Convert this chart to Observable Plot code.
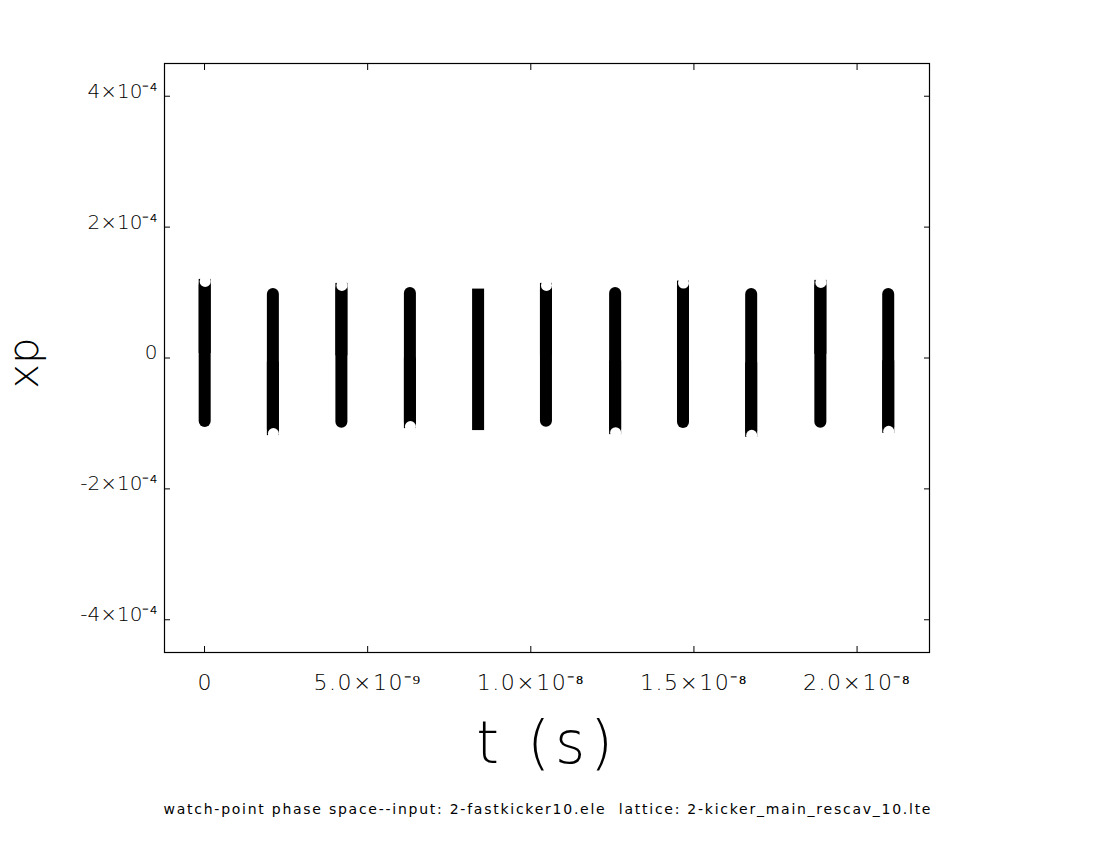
<!DOCTYPE html>
<html><head><meta charset="utf-8">
<script src="https://cdn.jsdelivr.net/npm/d3@7"></script>
<script src="https://cdn.jsdelivr.net/npm/@observablehq/plot@0.6"></script>
<style>body{margin:0;background:#fff} #chart svg{display:block}</style>
</head><body><div id="chart"></div>
<script>
// bunch centers (s), xp extents, which end is notched
const bunchT = [0.02e-9, 2.11e-9, 4.21e-9, 6.31e-9, 8.40e-9, 10.48e-9, 12.60e-9, 14.68e-9, 16.77e-9, 18.89e-9, 20.97e-9];
const bunchTop = [1.201e-4, 1.063e-4, 1.140e-4, 1.079e-4, 1.053e-4, 1.140e-4, 1.079e-4, 1.175e-4, 1.063e-4, 1.186e-4, 1.063e-4];
const bunchBottom = [-1.063e-4, -1.186e-4, -1.074e-4, -1.079e-4, -1.109e-4, -1.059e-4, -1.171e-4, -1.079e-4, -1.212e-4, -1.074e-4, -1.151e-4];
const bunchNotch = ["top", "bottom", "top", "bottom", "none", "top", "bottom", "top", "bottom", "top", "bottom"];
const bunchHalfLength = 0.184e-9;

const xTicks = [0, 5e-9, 1e-8, 1.5e-8, 2e-8];
const xTickLabels = ["0", "5.0×10⁻⁹", "1.0×10⁻⁸", "1.5×10⁻⁸", "2.0×10⁻⁸"];
const yTicks = [4e-4, 2e-4, 0, -2e-4, -4e-4];
const yTickLabels = ["4×10⁻⁴", "2×10⁻⁴", "0", "-2×10⁻⁴", "-4×10⁻⁴"];
const xLabel = "t (s)";
const yLabel = "xp";
const caption = "watch-point phase space--input: 2-fastkicker10.ele  lattice: 2-kicker_main_rescav_10.lte";
const xDomain = [-1.227e-9, 22.22e-9];
const yDomain = [-4.5e-4, 4.5e-4];

const bunches = bunchT.map((t, i) => ({
  t, top: bunchTop[i], bottom: bunchBottom[i], notch: bunchNotch[i],
  mid: (bunchTop[i] + bunchBottom[i]) / 2
}));

const font = "DejaVu Sans";
const chart = Plot.plot({
  width: 1093, height: 842,
  marginLeft: 164, marginRight: 164, marginTop: 63, marginBottom: 190,
  x: {domain: xDomain},
  y: {domain: yDomain},
  style: {fontFamily: font, fontWeight: 200, color: "black", background: "white"},
  marks: [
    Plot.frame({stroke: "black", strokeWidth: 1.2}),
    Plot.axisX({anchor: "bottom", ticks: xTicks, tickSize: -6, tickFormat: () => "", label: null}),
    Plot.axisX({anchor: "top", ticks: xTicks, tickSize: -6, tickFormat: () => "", label: null}),
    Plot.axisY({anchor: "left", ticks: yTicks, tickSize: -6, tickFormat: () => "", label: null}),
    Plot.axisY({anchor: "right", ticks: yTicks, tickSize: -6, tickFormat: () => "", label: null}),
    // bunches: rounded body
    Plot.rect(bunches.filter(d => d.notch !== "none"), {
      x1: d => d.t - bunchHalfLength, x2: d => d.t + bunchHalfLength,
      y1: "bottom", y2: "top", fill: "black", rx: 6
    }),
    // square end on notched side
    Plot.rect(bunches, {
      x1: d => d.t - bunchHalfLength, x2: d => d.t + bunchHalfLength,
      y1: d => d.notch === "top" ? d.mid : d.bottom,
      y2: d => d.notch === "bottom" ? d.mid : d.top,
      fill: "black"
    }),
    // notches
    Plot.dot(bunches.filter(d => d.notch === "top"), {x: "t", y: "top", r: 5.5, fill: "white", dy: 2}),
    Plot.dot(bunches.filter(d => d.notch === "bottom"), {x: "t", y: "bottom", r: 5.5, fill: "white", dy: -2}),
    // tick labels
    Plot.text(xTicks, {x: d => d, frameAnchor: "bottom", text: (d, i) => xTickLabels[i],
      textAnchor: "middle", dy: 30, fontSize: 22, lineAnchor: "middle", fill: "black"}),
    Plot.text(yTicks, {y: d => d, frameAnchor: "left", text: (d, i) => yTickLabels[i],
      textAnchor: "end", dx: -7, dy: -5, fontSize: 20, lineAnchor: "middle", fill: "black"}),
    // axis titles
    Plot.text([xLabel], {frameAnchor: "bottom", text: d => d, textAnchor: "middle", dy: 92, fontSize: 58, lineAnchor: "middle", fill: "black"}),
    Plot.text([yLabel], {frameAnchor: "left", text: d => d, textAnchor: "middle", dx: -140, dy: 5, rotate: -90, fontSize: 42, lineAnchor: "middle", fill: "black"}),
    Plot.text([caption], {frameAnchor: "bottom", text: d => d, textAnchor: "middle", dy: 157, fontSize: 14, fontWeight: 400, lineAnchor: "middle", fill: "black"})
  ]
});
document.getElementById("chart").appendChild(chart);
const svg = d3.select(chart);
svg.selectAll("text").filter(function() { return this.textContent === caption; })
  .attr("textLength", 767).attr("lengthAdjust", "spacing");
svg.selectAll("text").filter(function() { return this.textContent === xLabel; })
  .attr("letter-spacing", 5);
svg.selectAll("text").filter(function() { return xTickLabels.includes(this.textContent) && this.textContent !== "0"; })
  .attr("letter-spacing", 1.5);
</script>
</body></html>
